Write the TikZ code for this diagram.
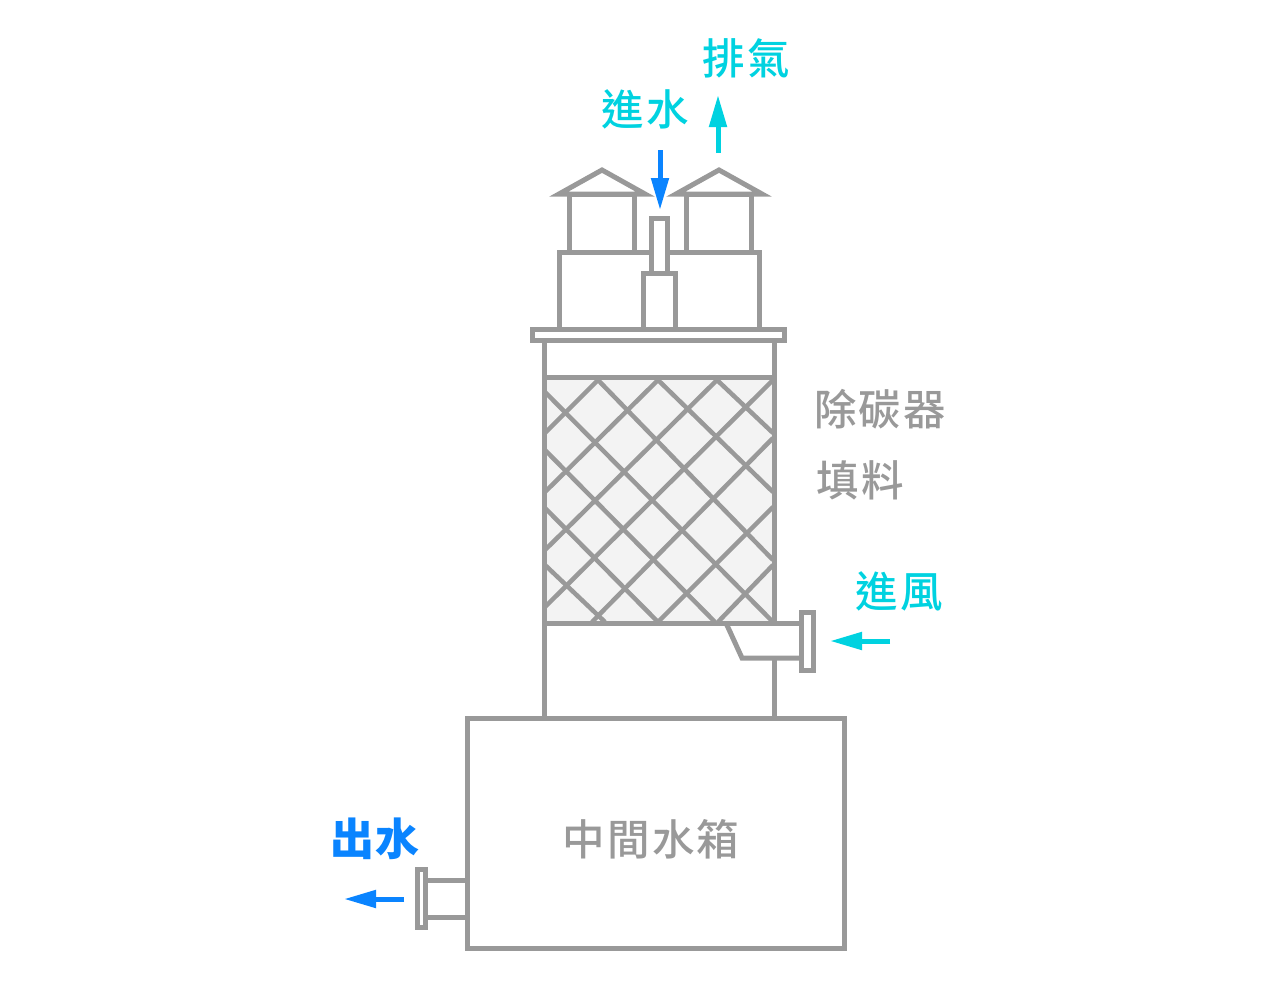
\documentclass[tikz,border=0pt]{standalone}
\usepackage{fontspec}
\setmainfont{Noto Sans CJK TC}[LetterSpace=5]
\newfontfamily\mediumFont{Noto Sans CJK TC Medium}[LetterSpace=5]
\newfontfamily\blackFont{Noto Sans CJK TC Black}[LetterSpace=2]
\usetikzlibrary{arrows.meta}
\definecolor{lineGray}{HTML}{999999}
\definecolor{packGray}{HTML}{F3F3F3}
\definecolor{waterBlue}{HTML}{0A84FF}
\definecolor{airCyan}{HTML}{00D2E0}

\begin{document}
\begin{tikzpicture}[x=1pt, y=-1pt]
            % Set primary nodes
            \tikzset{
                partNode/.style={
                        draw=lineGray,
                        rectangle,
                        line width=5pt,
                        inner sep=0pt
                    }
            }
            \tikzset{
                wallLine/.style={
                        draw=lineGray,
                        line width=5pt
                    }
            }
            \tikzset{
                latticeLine/.style={
                        draw=lineGray,
                        line width=4.5pt
                    }
            }
            \tikzset{
                grayLabel/.style={
                        text=lineGray,
                        font=\fontsize{42.5}{42.5}\mediumFont
                    }
            }
            \tikzset{
                flowLabel/.style={
                        font=\fontsize{42.5}{42.5}\mediumFont
                    }
            }
            % Configure arrows
            \tikzstyle{flowArrow} = [line width=5pt, -{Triangle[length=32pt, width=17pt]}]
            \useasboundingbox (0,0) rectangle (1281,988);
            % Packing and its lattice
            \fill[packGray] (544,377) rectangle (774,623);
            \begin{scope}
                \clip (544,377) rectangle (774,623);
                \draw[latticeLine] (545,433) -- (598,380);
                \draw[latticeLine] (545,492) -- (658,380);
                \draw[latticeLine] (545,550) -- (717,380);
                \draw[latticeLine] (545,607) -- (773,380);
                \draw[latticeLine] (592,622) -- (773,438);
                \draw[latticeLine] (658,622) -- (773,507);
                \draw[latticeLine] (718,622) -- (773,565);
                \draw[latticeLine] (545,392) -- (773,622);
                \draw[latticeLine] (545,450) -- (715,622);
                \draw[latticeLine] (545,508) -- (658,622);
                \draw[latticeLine] (545,565) -- (605,622);
                \draw[latticeLine] (598,380) -- (773,560);
                \draw[latticeLine] (658,380) -- (773,492);
                \draw[latticeLine] (717,380) -- (773,433);
            \end{scope}
            % Placing nodes
            \node[partNode, minimum width=200pt, minimum height=77pt] (leftBase) at (659,291) {};
            \node[partNode, minimum width=65pt, minimum height=58pt] (leftCap) at (601.5,223) {};
            \node[partNode, minimum width=65pt, minimum height=58pt] (rightCap) at (718.5,223) {};
            \node[partNode, fill=white, minimum width=16pt, minimum height=55pt] (feedPipe) at (659,245.5) {};
            \node[partNode, fill=white, minimum width=32pt, minimum height=56pt] (feedBody) at (659,301) {};
            \node[partNode, fill=white, minimum width=252pt, minimum height=11pt] (topFlange) at (658.5,335) {};
            \node[partNode, minimum width=377.5pt, minimum height=230pt] (tank) at (656,833) {};
            \node[partNode, fill=white, minimum width=12pt, minimum height=58pt] (airFlange) at (807.5,641) {};
            \node[partNode, fill=white, minimum width=8.5pt, minimum height=58pt] (outFlange) at (421.5,898.5) {};
            % Roofs
            \draw[wallLine, line join=miter] (559,194) -- (602,170) -- (645,194) -- cycle;
            \draw[wallLine, line join=miter] (676,194) -- (719,170) -- (762,194) -- cycle;
            % Column walls
            \draw[wallLine] (topFlange.south -| 544,0) -- (544,717);
            \draw[wallLine] (topFlange.south -| 774.5,0) -- (774.5,623);
            \draw[wallLine] (774.5,658) -- (774.5,717);
            \draw[wallLine] (544,377) -- (774.5,377);
            \draw[wallLine] (544,623) -- (airFlange.west |- 0,623);
            % Air inlet and water outlet
            \draw[wallLine] (726,623) -- (742,658) -- (airFlange.west |- 0,658);
            \draw[wallLine] (outFlange.east |- 0,880) -- (tank.west |- 0,880);
            \draw[wallLine] (outFlange.east |- 0,917) -- (tank.west |- 0,917);
            % Draw arrows
            \coordinate (waterInStart) at (660,150);
            \coordinate (waterInEnd) at (660,210);
            \coordinate (gasOutStart) at (718,153);
            \coordinate (gasOutEnd) at (718,95);
            \coordinate (airInStart) at (890,641);
            \coordinate (airInEnd) at (830,641);
            \coordinate (waterOutStart) at (404,899);
            \coordinate (waterOutEnd) at (344,899);
            \draw[flowArrow, waterBlue] (waterInStart) -- (waterInEnd);
            \draw[flowArrow, airCyan] (gasOutStart) -- (gasOutEnd);
            \draw[flowArrow, airCyan] (airInStart) -- (airInEnd);
            \draw[flowArrow, waterBlue] (waterOutStart) -- (waterOutEnd);
            % Labels
            \node[flowLabel, text=airCyan] (gasOutLabel) at (746,58) {排氣};
            \node[flowLabel, text=airCyan] (waterInLabel) at (645,109) {進水};
            \node[grayLabel] (towerLabel) at (880,409) {除碳器};
            \node[grayLabel] (packLabel) at (860,480) {填料};
            \node[flowLabel, text=airCyan] (airInLabel) at (899,591) {進風};
            \node[text=waterBlue, font=\fontsize{44}{44}\blackFont] (waterOutLabel) at (375,839) {出水};
            \node[grayLabel] (tankLabel) at (651,839) {中間水箱};

        \end{tikzpicture}
\end{document}
